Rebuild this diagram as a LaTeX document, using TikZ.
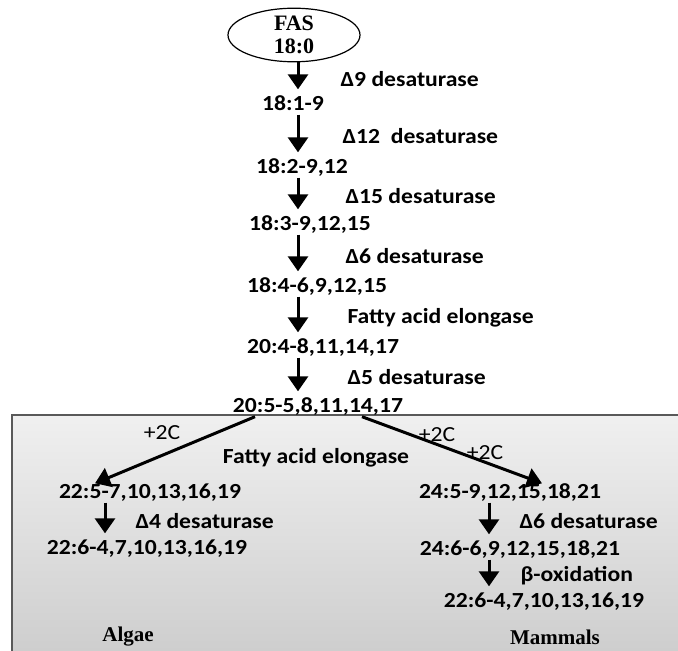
\documentclass[tikz,border=0pt]{standalone}
\usepackage{fontspec}
\setmainfont{Carlito}[FakeStretch=1.1]
\newfontfamily\titlefont{Liberation Serif}
\usetikzlibrary{shapes.geometric,arrows.meta,calc}

\begin{document}
\begin{tikzpicture}[x=1pt,y=-1pt,
    font=\fontsize{21.5}{24}\selectfont\bfseries,
    acid/.style={inner sep=1pt, text height=14pt, text depth=3pt},
    enz/.style={anchor=west, inner sep=1pt},
    plus/.style={inner sep=1pt, font=\fontsize{21.5}{24}\selectfont},
    group/.style={inner sep=1pt, font=\titlefont\fontsize{21}{23}\selectfont\bfseries},
    arr/.style={line width=3pt, -{Triangle[width=20pt,length=15pt]}, shorten <=0pt, shorten >=6pt}]
\useasboundingbox (0,0) rectangle (678,651);
% shaded box for the two branches
\shade[top color=black!6, bottom color=black!20] (12,415) rectangle (690,665);
\draw[black!65, line width=1.5pt] (690,415) -- (12,415) -- (12,665);

    \node[ellipse, draw, line width=1.2pt, minimum width=132pt, minimum height=44pt, inner sep=0pt, align=center,
          font=\titlefont\fontsize{22}{23}\selectfont\bfseries] (1) at (294,35) {FAS\\18:0};
    \node[acid] (2) at (293,105) {18:1-9};
    \node[acid] (3) at (302,168) {18:2-9,12};
    \node[acid] (4) at (310,225) {18:3-9,12,15};
    \node[acid] (5) at (317,287) {18:4-6,9,12,15};
    \node[acid] (6) at (323,348) {20:4-8,11,14,17};
    \node[acid] (7) at (318,407) {20:5-5,8,11,14,17};
% algae side
    \node[acid] (8) at (150,493) {22:5-7,10,13,16,19};
    \node[acid] (9) at (147,549) {22:6-4,7,10,13,16,19};
% mammal side
    \node[acid] (10) at (510,493) {24:5-9,12,15,18,21};
    \node[acid] (11) at (520,550) {24:6-6,9,12,15,18,21};
    \node[acid] (12) at (544,602) {22:6-4,7,10,13,16,19};
    \node[group] (algae) at (128,637) {Algae};
    \node[group] (mammals) at (555,637) {Mammals};
    \node[plus] (p1) at (162,433) {+2C};
    \node[plus] (p2) at (437,435) {+2C};
    \node[plus] (p3) at (485,453) {+2C};
    \node (fae) at (316,458) {Fatty acid elongase};

\coordinate (c) at (298,0);
\coordinate (cl) at (105,0);
\coordinate (cr) at (489,0);
\begin{scope}
    \draw[arr] (1.south -| c) -- (2.north -| c) node[enz, midway, xshift=40pt] {Δ9 desaturase};
    \draw[arr] (2.south -| c) -- (3.north -| c) node[enz, midway, xshift=42pt] {Δ12~~desaturase};
    \draw[arr] (3.south -| c) -- (4.north -| c) node[enz, midway, xshift=45pt] {Δ15 desaturase};
    \draw[arr] (4.south -| c) -- (5.north -| c) node[enz, midway, xshift=45pt] {Δ6 desaturase};
    \draw[arr] (5.south -| c) -- (6.north -| c) node[enz, midway, xshift=47pt] {Fatty acid elongase};
    \draw[arr] (6.south -| c) -- (7.north -| c) node[enz, midway, xshift=47pt] {Δ5 desaturase};
    \draw[arr, shorten >=0pt] ($(7.south)+(-63,0)$) -- ($(8.north)+(-55,0)$);
    \draw[arr, shorten >=0pt] ($(7.south)+(44,0)$) -- ($(10.north)+(32,0)$);
    \draw[arr] (8.south -| cl) -- (9.north -| cl) node[enz, midway, xshift=28pt] {Δ4 desaturase};
    \draw[arr] (10.south -| cr) -- (11.north -| cr) node[enz, midway, xshift=28pt] {Δ6 desaturase};
    \draw[arr] (11.south -| cr) -- (12.north -| cr) node[enz, midway, xshift=29pt] {β-oxidation};
\end{scope}
\end{tikzpicture}
\end{document}
